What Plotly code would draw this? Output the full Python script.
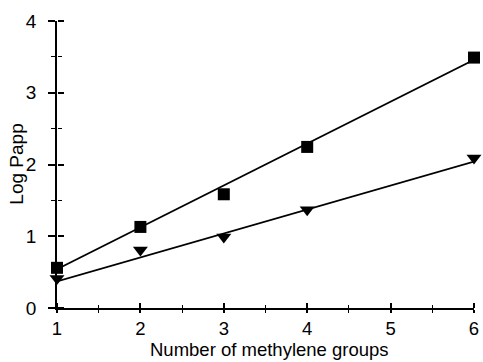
import plotly.graph_objects as go

# Data
methylene = [1, 2, 3, 4, 6]
logpapp_square = [0.56, 1.13, 1.585, 2.245, 3.49]
logpapp_triangle = [0.41, 0.81, 0.99, 1.37, 2.09]

fit_x = [1, 6]
fit_square = [0.54, 3.46]
fit_triangle = [0.37, 2.04]

x_ticks = [1, 2, 3, 4, 5, 6]
y_ticks = [0, 1, 2, 3, 4]

FONT = "Liberation Sans, Arial, sans-serif"
BLACK = "#000000"

fig = go.Figure()
fig.add_trace(go.Scatter(x=fit_x, y=fit_square, mode="lines",
                         line=dict(color=BLACK, width=1.6), showlegend=False,
                         hoverinfo="skip"))
fig.add_trace(go.Scatter(x=fit_x, y=fit_triangle, mode="lines",
                         line=dict(color=BLACK, width=1.6), showlegend=False,
                         hoverinfo="skip"))
fig.add_trace(go.Scatter(x=methylene, y=logpapp_square, mode="markers",
                         marker=dict(symbol="square", size=12, color=BLACK),
                         showlegend=False, cliponaxis=False))
fig.add_trace(go.Scatter(x=methylene, y=logpapp_triangle, mode="markers",
                         marker=dict(symbol="triangle-down", size=13, color=BLACK),
                         showlegend=False, cliponaxis=False,
                         xaxis="x2", yaxis="y2"))

axis_common = dict(showgrid=False, zeroline=False, color=BLACK)

fig.update_layout(
    width=483, height=362,
    margin=dict(l=57, r=4, t=21, b=54),
    paper_bgcolor="white", plot_bgcolor="white",
    font=dict(family=FONT, size=19, color=BLACK),
    xaxis=dict(range=[1, 6], tickvals=x_ticks, ticks="outside", ticklen=3,
               tickwidth=1.5, tickcolor=BLACK, showline=True, linewidth=1.8,
               linecolor=BLACK, ticklabeloverflow="allow",
               minor=dict(dtick=0.5, ticks="outside", ticklen=3, tickwidth=1.2,
                          tickcolor=BLACK),
               tickfont=dict(size=18.5), **axis_common),
    yaxis=dict(range=[0, 4], tickvals=y_ticks, ticks="outside", ticklen=7,
               tickwidth=1.5, tickcolor=BLACK, showline=True, linewidth=1.8,
               linecolor=BLACK, ticklabelstandoff=8,
               minor=dict(dtick=0.5, ticks="outside", ticklen=4, tickwidth=1.2,
                          tickcolor=BLACK),
               tickfont=dict(size=19), **axis_common),
    # mirror axes placed on the same lines, ticks pointing into the plot
    xaxis2=dict(range=[1, 6], tickvals=x_ticks, ticks="outside", ticklen=5,
                tickwidth=1.5, tickcolor=BLACK, showline=False,
                showticklabels=False, overlaying="x", side="top",
                anchor="free", position=0,
                minor=dict(dtick=0.5, ticks="outside", ticklen=3, tickwidth=1.2,
                           tickcolor=BLACK), **axis_common),
    yaxis2=dict(range=[0, 4], tickvals=y_ticks, ticks="outside", ticklen=6,
                tickwidth=1.5, tickcolor=BLACK, showline=False,
                showticklabels=False, overlaying="y", side="right",
                anchor="free", position=0,
                minor=dict(dtick=0.5, ticks="outside", ticklen=4, tickwidth=1.2,
                           tickcolor=BLACK), **axis_common),
    annotations=[
        dict(text="Number of methylene groups", xref="paper", yref="paper",
             x=0.51, y=-0.1882, xanchor="center", yanchor="bottom",
             showarrow=False, font=dict(size=18.5)),
        dict(text="Log Papp", xref="paper", yref="paper", x=-0.098, y=0.5,
             xanchor="center", yanchor="middle", textangle=-90,
             showarrow=False, font=dict(size=19)),
    ],
)

fig.write_html("out.html")
